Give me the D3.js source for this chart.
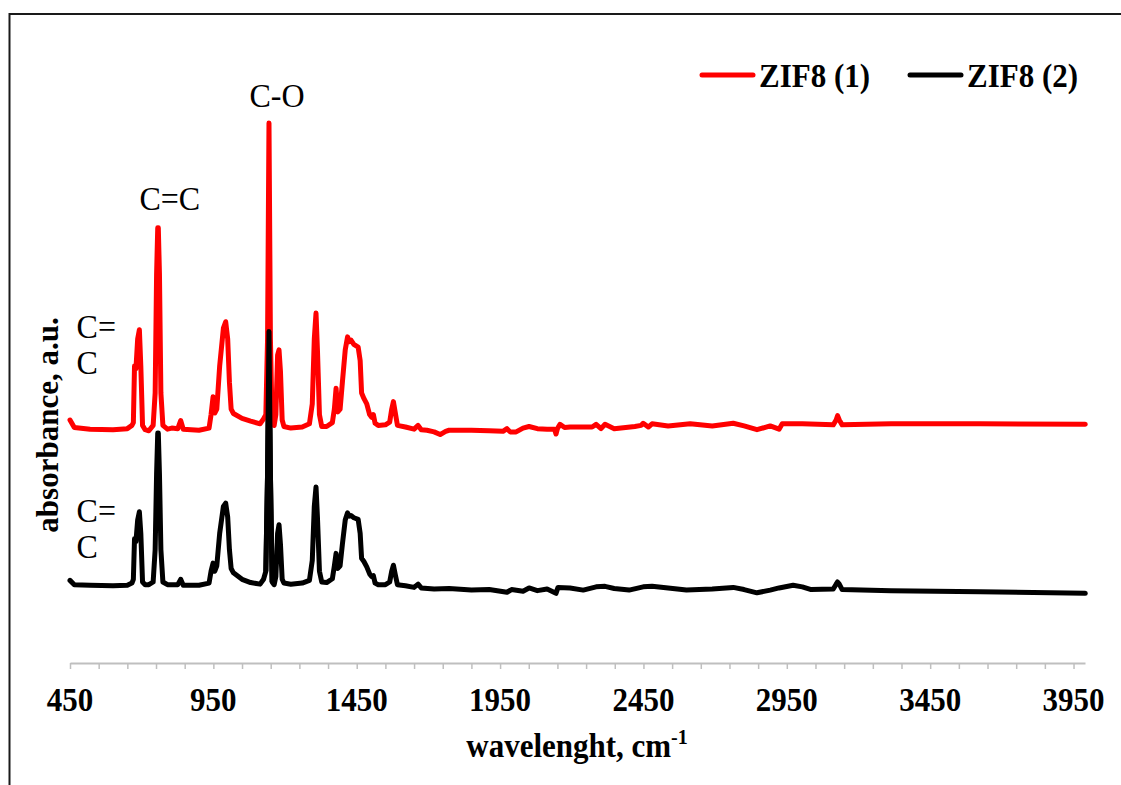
<!DOCTYPE html>
<html>
<head>
<meta charset="utf-8">
<script src="https://cdn.jsdelivr.net/npm/d3@7/dist/d3.min.js"></script>
<style>
  html, body { margin: 0; padding: 0; background: #fff; }
  svg { display: block; }
</style>
</head>
<body>
<svg id="chart" width="1121" height="785"></svg>
<script>
// ---- data ----
const zif1Wn = [450,465,520,600,650,666,671,675,680,686,692,697,703,712,725,740,747,752,756,758,762,767,774,790,805,826,836,845,900,935,942,949,955,962,972,985,993,1000,1006,1012,1020,1050,1080,1113,1125,1133,1139,1144,1149,1155,1162,1168,1174,1179,1184,1190,1196,1220,1260,1285,1295,1302,1308,1313,1320,1328,1345,1365,1372,1378,1384,1392,1400,1410,1418,1424,1430,1440,1455,1462,1467,1475,1485,1495,1502,1508,1514,1525,1550,1565,1572,1578,1584,1592,1620,1650,1664,1675,1695,1720,1741,1760,1772,1850,1912,1960,1974,1985,2006,2030,2051,2080,2114,2140,2145,2150,2159,2175,2194,2271,2285,2302,2316,2348,2420,2442,2449,2467,2480,2536,2613,2690,2763,2801,2846,2892,2923,2934,3004,3112,3122,3127,3133,3143,3314,3624,3991];
const zif1Abs = [45.0,43.6,43.3,43.2,43.4,44.0,44.5,55.0,54.5,60.0,61.7,55,44.0,43.2,43.0,44.0,50,72,80.6,80.6,72,50,44.0,43.3,43.5,43.4,44.9,43.3,43.1,43.5,46,49.3,46.3,47,55,62,63.2,60,52,47,46.2,45.3,44.8,44.3,45.2,46,60,100,60,44.5,44.0,46,57,58.0,54,45,43.8,43.5,43.7,44.3,48,60,64.8,58,46,43.8,43.8,44.5,47,50.9,46.5,47,52,58,60.4,59.5,59.8,59.0,58.5,56,50,49,48,46,45.5,46,44.4,44.0,44.1,44.6,47,48.4,46.5,44.0,43.7,43.3,44.0,43.2,43.1,42.8,42.3,42.9,43.1,43.1,43.0,42.9,43.4,42.8,42.8,43.5,43.8,43.4,43.3,43.3,42.4,43.4,44.2,43.6,43.7,43.7,44.2,43.4,44.2,43.4,43.8,44.0,44.4,43.7,44.3,43.9,44.3,43.9,44.4,43.9,43.2,43.9,43.3,44.3,44.3,44.1,45,45.8,45,44.1,44.3,44.3,44.2];

const zif2Wn = [450,465,520,600,650,666,671,675,680,686,692,697,703,712,725,740,747,752,756,758,762,767,774,790,826,836,845,900,935,942,949,955,962,972,985,993,1000,1006,1012,1020,1050,1080,1113,1125,1133,1139,1144,1149,1155,1162,1168,1174,1179,1184,1190,1196,1220,1260,1285,1295,1302,1308,1313,1320,1328,1345,1365,1372,1378,1384,1392,1400,1410,1418,1424,1430,1440,1455,1462,1467,1475,1485,1495,1502,1508,1514,1525,1550,1565,1572,1578,1584,1592,1620,1650,1664,1675,1720,1772,1850,1912,1974,1990,2030,2051,2080,2114,2145,2152,2194,2240,2285,2316,2348,2400,2449,2480,2536,2600,2690,2763,2801,2846,2892,2923,2972,3004,3035,3112,3122,3127,3133,3143,3314,3624,3991];
const zif2Abs = [15.3,14.5,14.4,14.3,14.4,14.8,15.5,23.0,22.5,26.5,28.0,24,15.0,14.5,14.5,15.0,21,35,42.6,42.6,35,21,15.0,14.5,14.5,15.5,14.4,14.4,14.8,17,18.5,17.0,18,24,29,29.6,27,21,17.5,16.7,15.5,14.9,14.6,15.5,17,35,61.4,35,15.0,14.5,16,24,25.6,22,15.5,14.8,14.6,14.8,15.3,19,29,32.6,27,17,15.0,14.9,15.6,18,20.3,17.5,18,22,26.5,27.8,27.2,27.3,26.9,26.6,24,19.4,18.8,17.8,16.5,16.0,16.2,14.8,14.5,14.5,15.0,17,18.1,16.5,14.5,14.3,14.0,14.6,13.9,13.7,13.8,13.5,13.6,13.1,13.6,13.3,13.9,13.4,13.7,12.9,14.0,13.9,13.5,14.1,14.2,13.8,13.5,14.1,14.2,13.9,13.5,13.7,14.0,13.6,13.0,13.5,13.9,14.4,14.1,13.6,13.7,14.6,15.0,14.6,13.6,13.4,13.2,12.9];

const seriesNames = ["ZIF8 (1)", "ZIF8 (2)"];
const tickValues = d3.range(450, 3951, 100);
const tickLabels = [450, 950, 1450, 1950, 2450, 2950, 3450, 3950];
const xTitle = "wavelenght, cm";
const xTitleSup = "-1";
const yTitle = "absorbance, a.u.";
// annotation texts with their anchor wavenumber / value
const annotations = [
  {text: "C-O", wn: 1172, val: 102.9, anchor: "middle"},
  {text: "C=C", wn: 798, val: 83.9, anchor: "middle"},
  {text: "C=", wn: 473, val: 60.2, anchor: "start"},
  {text: "C", wn: 473, val: 53.5, anchor: "start"},
  {text: "C=", wn: 473, val: 26.1, anchor: "start"},
  {text: "C", wn: 473, val: 19.4, anchor: "start"}
];

// ---- drawing ----
const svg = d3.select("#chart");
const W = 1121, H = 785;
const serif = "'Liberation Serif', 'Times New Roman', serif";
const VS = 1.08; // slight vertical stretch of the reference text

svg.append("rect").attr("x", 0).attr("y", 0).attr("width", W).attr("height", H).attr("fill", "#fff");
// chart frame (extends beyond picture on right / bottom)
svg.append("rect").attr("x", 9.5).attr("y", 14).attr("width", 1300).attr("height", 1000)
  .attr("fill", "none").attr("stroke", "#1a1a1a").attr("stroke-width", 2);

const x = d3.scaleLinear().domain([450, 3990]).range([70, 1085]);
const y = d3.scaleLinear().domain([0, 100]).range([663, 123]);

// x axis
const axisG = svg.append("g").attr("transform", "translate(0,663)");
axisG.call(d3.axisBottom(x).tickValues(tickValues).tickSize(6).tickSizeOuter(0).tickFormat(""));
axisG.select(".domain").attr("stroke", "#bfbfbf").attr("stroke-width", 2);
axisG.selectAll(".tick line").attr("stroke", "#bfbfbf").attr("stroke-width", 1.5);

svg.append("g").selectAll("text").data(tickLabels).join("text")
  .attr("transform", d => `translate(${x(d)},711) scale(1,${VS})`)
  .attr("text-anchor", "middle")
  .attr("font-family", serif).attr("font-weight", "bold").attr("font-size", 31)
  .attr("fill", "#000")
  .text(d => d);

// axis titles
const xt = svg.append("text").attr("transform", `translate(577,757) scale(1,${VS})`).attr("text-anchor", "middle")
  .attr("font-family", serif).attr("font-weight", "bold").attr("font-size", 31).attr("fill", "#000");
xt.append("tspan").text(xTitle);
xt.append("tspan").attr("dy", -12).attr("font-size", 20).text(xTitleSup);

svg.append("text").attr("transform", "translate(58,425) rotate(-90)")
  .attr("text-anchor", "middle")
  .attr("font-family", serif).attr("font-weight", "bold").attr("font-size", 31).attr("fill", "#000")
  .text(yTitle);

// lines
const line = d3.line().x(d => x(d[0])).y(d => y(d[1]));
const s1 = zif1Wn.map((w, i) => [w, zif1Abs[i]]);
const s2 = zif2Wn.map((w, i) => [w, zif2Abs[i]]);
const colors = ["#ff0000", "#000000"];

[[s2, colors[1]], [s1, colors[0]]].forEach(([s, c]) => {
  svg.append("path").datum(s)
    .attr("d", line)
    .attr("fill", "none")
    .attr("stroke", c)
    .attr("stroke-width", 5)
    .attr("stroke-linejoin", "round")
    .attr("stroke-linecap", "round");
});
// black C-O peak drawn over red, as in the reference
svg.append("path").datum(s2.filter(d => d[0] >= 1133 && d[0] <= 1155))
  .attr("d", line).attr("fill", "none").attr("stroke", "#000").attr("stroke-width", 5)
  .attr("stroke-linejoin", "round");

// annotations
svg.append("g").selectAll("text").data(annotations).join("text")
  .attr("transform", d => `translate(${x(d.wn)},${y(d.val)}) scale(1,${VS})`)
  .attr("text-anchor", d => d.anchor)
  .attr("font-family", serif).attr("font-size", 32).attr("fill", "#000")
  .text(d => d.text);

// legend
const legendX = [702, 910];
seriesNames.forEach((name, i) => {
  const g = svg.append("g");
  g.append("line").attr("x1", legendX[i]).attr("x2", legendX[i] + 51)
    .attr("y1", 75).attr("y2", 75)
    .attr("stroke", colors[i]).attr("stroke-width", 5).attr("stroke-linecap", "round");
  g.append("text").attr("transform", `translate(${legendX[i] + 57},86.5) scale(1,${VS})`)
    .attr("font-family", serif).attr("font-weight", "bold").attr("font-size", 31).attr("fill", "#000")
    .text(name);
});
</script>
</body>
</html>
